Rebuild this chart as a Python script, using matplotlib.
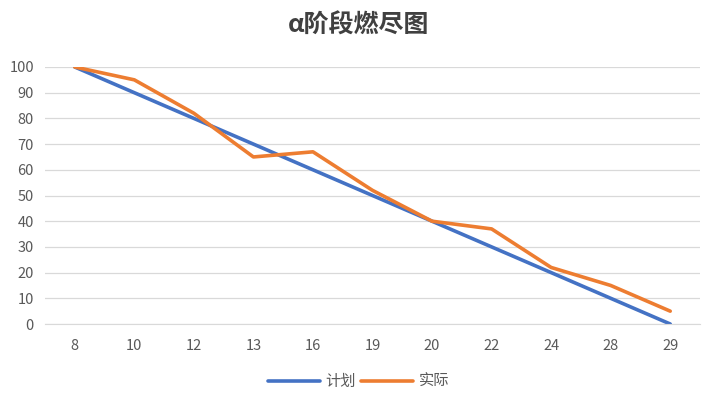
import matplotlib
matplotlib.use('Agg')
import matplotlib.pyplot as plt
import numpy as np

plt.rcParams['font.family'] = ['Noto Sans CJK SC', 'DejaVu Sans']

days = ['8', '10', '12', '13', '16', '19', '20', '22', '24', '28', '29']
plan = [100, 90, 80, 70, 60, 50, 40, 30, 20, 10, 0]
actual = [100, 95, 82, 65, 67, 52, 40, 37, 22, 15, 5]

fig = plt.figure(figsize=(7.17, 3.98), dpi=100)
ax = fig.add_axes([45 / 717, 1 - 324 / 398, 655 / 717, 257 / 398])

x = np.arange(len(days))
ax.plot(x, plan, color='#4472C4', linewidth=2.6, label='计划', solid_capstyle='round')
ax.plot(x, actual, color='#ED7D31', linewidth=2.6, label='实际', solid_capstyle='round')

ax.set_xlim(-0.5, len(days) - 0.5)
ax.set_ylim(0, 100)
ax.set_yticks(range(0, 101, 10))
ax.set_xticks(x)
ax.set_xticklabels(days)
ax.grid(axis='y', color='#D9D9D9', linewidth=0.9)
ax.set_axisbelow(True)
for s in ['top', 'right', 'left']:
    ax.spines[s].set_visible(False)
ax.spines['bottom'].set_color('#D9D9D9')
ax.tick_params(axis='both', length=0, labelsize=10.5, colors='#595959')
ax.tick_params(axis='x', pad=11)
ax.tick_params(axis='y', pad=8)

fig.suptitle('α阶段燃尽图', fontsize=18, fontweight='semibold', color='#404040', y=0.965)

fig.legend(loc='lower center', bbox_to_anchor=(0.5, -0.015), ncol=2, frameon=False,
           fontsize=11, handlelength=3.4, columnspacing=0.3, handletextpad=0.4,
           labelcolor='#595959')

fig.savefig('out.png', dpi=100)
